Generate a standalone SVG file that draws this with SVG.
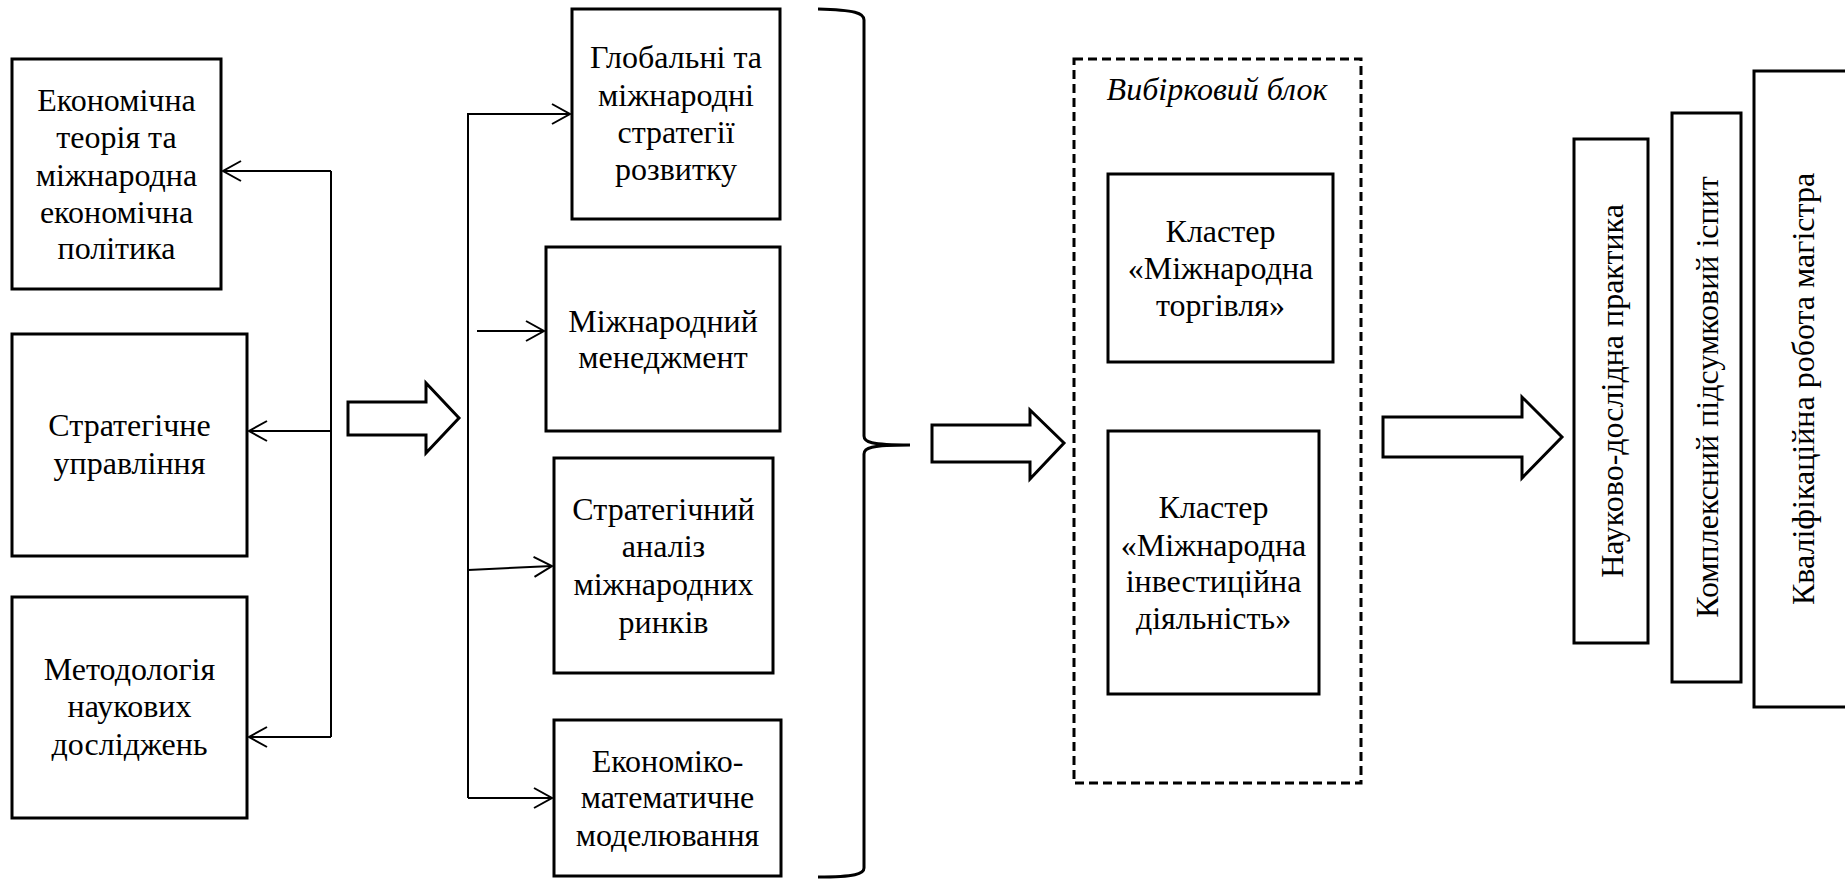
<svg xmlns="http://www.w3.org/2000/svg" width="1845" height="881" viewBox="0 0 1845 881">
<style>
.box{fill:#fff;stroke:#000;stroke-width:3}
.dash{fill:none;stroke:#000;stroke-width:3;stroke-dasharray:9 5}
.t{font-family:'Liberation Serif','Tinos','DejaVu Serif',serif;font-size:32px;fill:#000;text-anchor:middle}
.it{font-style:italic}
.ln{fill:none;stroke:#000;stroke-width:2}
.big{fill:#fff;stroke:#000;stroke-width:3;stroke-linejoin:miter}
.brace{fill:none;stroke:#000;stroke-width:3}
</style>
<defs>
<marker id="ah" markerUnits="userSpaceOnUse" markerWidth="24" markerHeight="24" viewBox="-20 -12 24 24" refX="0" refY="0" orient="auto" overflow="visible">
<path d="M-18,-10 L0,0 L-18,10" fill="none" stroke="#000" stroke-width="2"/>
</marker>
</defs>
<rect width="1845" height="881" fill="#fff"/>

<g id="connectors">
<path class="ln" d="M331,171 V737"/>
<path class="ln" d="M331,171 H223" marker-end="url(#ah)"/>
<path class="ln" d="M331,431 H249" marker-end="url(#ah)"/>
<path class="ln" d="M331,737 H249" marker-end="url(#ah)"/>
<path class="ln" d="M468,798 V114 H570" marker-end="url(#ah)"/>
<path class="ln" d="M468,798 H552" marker-end="url(#ah)"/>
<path class="ln" d="M468,570 L552,566" marker-end="url(#ah)"/>
<path class="ln" d="M477,331 H544" marker-end="url(#ah)"/>
<polygon class="big" points="348,402 426,402 426,383 459,418 426,453 426,435 348,435"/>
<polygon class="big" points="932,425 1030,425 1030,410 1064,443 1030,479 1030,462 932,462"/>
<polygon class="big" points="1383,417 1522,417 1522,397 1562,437 1522,478 1522,457 1383,457"/>
<path class="brace" d="M818,9 C855,10 864,13 864,20 V436 C864,442 870,445 910,445 C870,445 864,448 864,454 V868 C864,874 855,877 818,877"/>
</g>

<g id="n1">
<rect class="box" x="12" y="59" width="209" height="230"/>
<text class="t" x="116.5" y="111">Економічна</text>
<text class="t" x="116.5" y="148">теорія та</text>
<text class="t" x="116.5" y="186">міжнародна</text>
<text class="t" x="116.5" y="223">економічна</text>
<text class="t" x="116.5" y="259">політика</text>
</g>
<g id="n2">
<rect class="box" x="12" y="334" width="235" height="222"/>
<text class="t" x="129.5" y="436">Стратегічне</text>
<text class="t" x="129.5" y="474">управління</text>
</g>
<g id="n3">
<rect class="box" x="12" y="597" width="235" height="221"/>
<text class="t" x="129.5" y="680">Методологія</text>
<text class="t" x="129.5" y="717">наукових</text>
<text class="t" x="129.5" y="755">досліджень</text>
</g>

<g id="m1">
<rect class="box" x="572" y="9" width="208" height="210"/>
<text class="t" x="676" y="68">Глобальні та</text>
<text class="t" x="676" y="106">міжнародні</text>
<text class="t" x="676" y="143">стратегії</text>
<text class="t" x="676" y="180">розвитку</text>
</g>
<g id="m2">
<rect class="box" x="546" y="247" width="234" height="184"/>
<text class="t" x="663" y="332">Міжнародний</text>
<text class="t" x="663" y="368">менеджмент</text>
</g>
<g id="m3">
<rect class="box" x="554" y="458" width="219" height="215"/>
<text class="t" x="663.5" y="520">Стратегічний</text>
<text class="t" x="663.5" y="557">аналіз</text>
<text class="t" x="663.5" y="595">міжнародних</text>
<text class="t" x="663.5" y="633">ринків</text>
</g>
<g id="m4">
<rect class="box" x="554" y="720" width="227" height="156"/>
<text class="t" x="667.5" y="772">Економіко-</text>
<text class="t" x="667.5" y="808">математичне</text>
<text class="t" x="667.5" y="846">моделювання</text>
</g>

<g id="elective">
<rect class="dash" x="1074" y="59" width="287" height="724"/>
<text class="t it" x="1217" y="100">Вибірковий блок</text>
</g>
<g id="c1">
<rect class="box" x="1108" y="174" width="225" height="188"/>
<text class="t" x="1220.5" y="242">Кластер</text>
<text class="t" x="1220.5" y="279">«Міжнародна</text>
<text class="t" x="1220.5" y="316">торгівля»</text>
</g>
<g id="c2">
<rect class="box" x="1108" y="431" width="211" height="263"/>
<text class="t" x="1213.5" y="518">Кластер</text>
<text class="t" x="1213.5" y="556">«Міжнародна</text>
<text class="t" x="1213.5" y="592">інвестиційна</text>
<text class="t" x="1213.5" y="629">діяльність»</text>
</g>

<g id="f1">
<rect class="box" x="1574" y="139" width="74" height="504"/>
<text class="t" transform="translate(1623,391) rotate(-90)">Науково-дослідна практика</text>
</g>
<g id="f2">
<rect class="box" x="1672" y="113" width="69" height="569"/>
<text class="t" transform="translate(1718,397) rotate(-90)">Комплексний підсумковий іспит</text>
</g>
<g id="f3">
<rect class="box" x="1754" y="71" width="100" height="636"/>
<text class="t" transform="translate(1814,389) rotate(-90)">Кваліфікаційна робота магістра</text>
</g>
</svg>
